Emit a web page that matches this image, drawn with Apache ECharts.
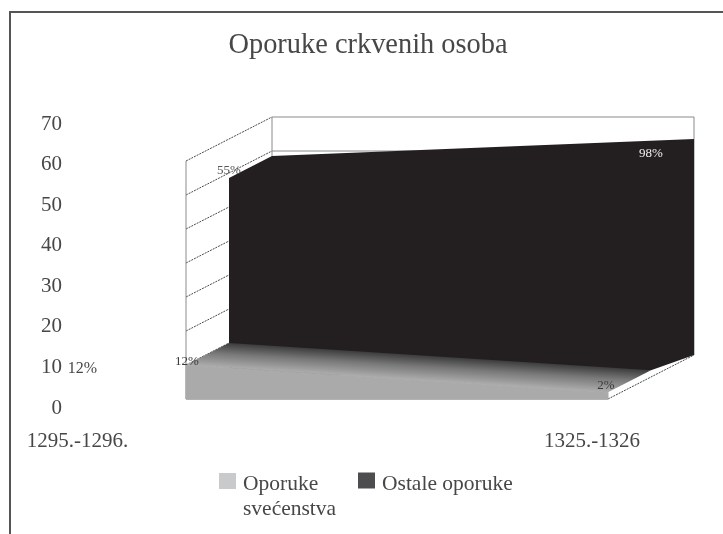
<!DOCTYPE html>
<html>
<head>
<meta charset="utf-8">
<style>html,body{margin:0;padding:0;background:#fff}#c{width:723px;height:534px}</style>
<script src="https://cdn.jsdelivr.net/npm/echarts@6/dist/echarts.min.js"></script>
</head>
<body>
<div id="c"></div>
<script>
var titleText = 'Oporuke crkvenih osoba';
var categories = ['1295.-1296.', '1325.-1326'];
var seriesNames = ['Oporuke\nsvećenstva', 'Ostale oporuke'];
var clergy = [10, 2];
var others = [58.5, 63.5];
var clergyLabels = ['12%', '2%'];
var otherLabels = ['55%', '98%'];
var yTicks = [0, 10, 20, 30, 40, 50, 60, 70];

var SERIF = '"Liberation Serif", "Times New Roman", serif';
var TEXT = '#474747';
var DEPTH_X = 86, DEPTH_Y = -44;

function pt(api, xi, v, depth) {
  var p = api.coord([xi, v]);
  return [p[0] + DEPTH_X * depth, p[1] + DEPTH_Y * depth];
}
function line(a, b, style) {
  return {type: 'line', shape: {x1: a[0], y1: a[1], x2: b[0], y2: b[1]}, style: style};
}
function poly(points, style) {
  return {type: 'polygon', shape: {points: points}, style: style};
}
function label(p, text, color, size, align) {
  return {type: 'text', x: p[0], y: p[1], style: {text: text, fill: color, font: (size || 13) + 'px ' + SERIF, align: align || 'center', verticalAlign: 'middle'}};
}

function renderWalls(params, api) {
  var wall = {stroke: '#8a8a8a', lineWidth: 1, fill: null};
  var grid = {stroke: '#4a4a4a', lineWidth: 1, lineDash: [2, 1]};
  var kids = [];
  yTicks.forEach(function (t) {
    if (t > 0) {
      kids.push(line(pt(api, 0, t, 0), pt(api, 0, t, 1), grid));
    }
    if (t === 60 || t === 70) {
      kids.push(line(pt(api, 0, t, 1), pt(api, 1, t, 1), wall));
    }
  });
  kids.push(line(pt(api, 0, 0, 0), pt(api, 0, 70, 0), wall));
  kids.push(line(pt(api, 0, 0, 1), pt(api, 0, 70, 1), wall));
  kids.push(line(pt(api, 1, 0, 1), pt(api, 1, 70, 1), wall));
  kids.push(line(pt(api, 0, 0, 0), pt(api, 1, 0, 0), {stroke: '#777', lineWidth: 1}));
  kids.push(line(pt(api, 1, 0, 0), pt(api, 1, 0, 1), grid));
  return {type: 'group', children: kids};
}

function renderOthers(params, api) {
  if (params.dataIndex !== 0) return null;
  var d0 = 0.5, d1 = 1;
  return poly([
    pt(api, 0, 0, d0),
    pt(api, 0, others[0], d0),
    pt(api, 0, others[0], d1),
    pt(api, 1, others[1], d1),
    pt(api, 1, 0, d1),
    pt(api, 1, clergy[1], d0)
  ], {fill: '#231f20'});
}

function renderClergy(params, api) {
  if (params.dataIndex !== 0) return null;
  var d1 = 0.5;
  var a = pt(api, 0, clergy[0], 0), b = pt(api, 1, clergy[1], 0);
  var c = pt(api, 0, clergy[0], d1), e = pt(api, 1, clergy[1], d1);
  var ex = e[0] - c[0], ey = e[1] - c[1], len = Math.sqrt(ex * ex + ey * ey);
  var nx = -ey / len, ny = ex / len;
  var reach = (a[0] - c[0]) * nx + (a[1] - c[1]) * ny;
  var grad = {
    type: 'linear', global: true,
    x: c[0], y: c[1], x2: c[0] + nx * reach, y2: c[1] + ny * reach,
    colorStops: [{offset: 0, color: '#3c3c3c'}, {offset: 0.45, color: '#787878'}, {offset: 1, color: '#adadad'}]
  };
  return {type: 'group', children: [
    poly([a, c, e, b], {fill: grad}),
    poly([pt(api, 0, 0, 0), a, b, pt(api, 1, 0, 0)], {fill: '#aaaaaa', stroke: '#aaaaaa', lineWidth: 1})
  ]};
}

function renderValueLabels(params, api) {
  if (params.dataIndex !== 0) return null;
  var p0 = pt(api, 0, clergy[0], 0), p1 = pt(api, 1, clergy[1], 0);
  var p2 = pt(api, 0, others[0], 0.5), p3 = pt(api, 1, others[1], 0.5);
  return {type: 'group', children: [
    label([p0[0] + 1, p0[1] - 3], clergyLabels[0], '#3a3a3a'),
    label([p1[0] - 2, p1[1] - 7], clergyLabels[1], '#3a3a3a'),
    label([p2[0], p2[1] - 8], otherLabels[0], '#555555'),
    label([p3[0], p3[1] - 8], otherLabels[1], '#f0f0f0')
  ]};
}

function renderOuterLabel(params, api) {
  if (params.dataIndex !== 0) return null;
  var p = api.coord([0, 10]);
  return label([p[0] + 5, p[1] + 1], clergyLabels[0], TEXT, 16);
}

var legendRich = {
  a: {fontFamily: SERIF, fontSize: 21.5, color: TEXT, lineHeight: 25, padding: [0, 0, 0, 2]},
  g1: {fontSize: 10, lineHeight: 31},
  g2: {fontSize: 4, lineHeight: 8}
};

var chart = echarts.init(document.getElementById('c'), null, {renderer: 'canvas'});
chart.setOption({
  animation: false,
  backgroundColor: '#ffffff',
  title: {
    text: titleText, left: 363, top: 27, textAlign: 'center',
    textStyle: {fontFamily: SERIF, fontSize: 28.4, fontWeight: 'normal', color: TEXT}
  },
  legend: [
    {
      left: 214, top: 446, orient: 'horizontal', itemWidth: 17, itemHeight: 16,
      data: [{name: seriesNames[0], icon: 'rect', itemStyle: {color: '#c9cacc'}}],
      formatter: function (n) {
        return '{g1| }\n' + n.split('\n').map(function (s) { return '{a|' + s + '}'; }).join('\n');
      },
      textStyle: {rich: legendRich}
    },
    {
      left: 353, top: 461, orient: 'horizontal', itemWidth: 17, itemHeight: 16,
      data: [{name: seriesNames[1], icon: 'rect', itemStyle: {color: '#4d4d4f'}}],
      formatter: function (n) { return '{g2| }\n{a|' + n + '}'; },
      textStyle: {rich: legendRich}
    }
  ],
  grid: [
    {left: 186, top: 161, width: 422, height: 238},
    {left: 77.5, top: 124, width: 514.5, height: 284}
  ],
  xAxis: [
    {gridIndex: 0, type: 'value', min: 0, max: 1, show: false},
    {gridIndex: 1, type: 'category', data: categories, boundaryGap: false,
      axisLine: {show: false}, axisTick: {show: false}, splitLine: {show: false},
      axisLabel: {interval: 0, margin: 23, fontFamily: SERIF, fontSize: 21, color: TEXT}}
  ],
  yAxis: [
    {gridIndex: 0, type: 'value', min: 0, max: 70, interval: 10, show: false},
    {gridIndex: 1, type: 'value', min: 0, max: 70, interval: 10,
      axisLine: {show: false}, axisTick: {show: false}, splitLine: {show: false},
      axisLabel: {margin: 15.5, fontFamily: SERIF, fontSize: 21, color: TEXT}}
  ],
  graphic: [{
    type: 'polyline', silent: true, z: -1,
    shape: {points: [[10, 534], [10, 12], [723, 12]]},
    style: {stroke: '#555555', lineWidth: 2, fill: null}
  }],
  series: [
    {type: 'custom', name: 'walls', xAxisIndex: 0, yAxisIndex: 0, silent: true, z: 1, clip: false,
      data: [[0, 0]], renderItem: renderWalls},
    {type: 'custom', name: seriesNames[1], xAxisIndex: 0, yAxisIndex: 0, silent: true, z: 2, clip: false,
      data: others.map(function (v, i) { return [i, v]; }), renderItem: renderOthers},
    {type: 'custom', name: seriesNames[0], xAxisIndex: 0, yAxisIndex: 0, silent: true, z: 3, clip: false,
      data: clergy.map(function (v, i) { return [i, v]; }), renderItem: renderClergy},
    {type: 'custom', name: 'labels', xAxisIndex: 0, yAxisIndex: 0, silent: true, z: 4, clip: false,
      data: [[0, 0]], renderItem: renderValueLabels},
    {type: 'custom', name: 'outer', xAxisIndex: 1, yAxisIndex: 1, silent: true, z: 4, clip: false,
      data: [[0, 10]], renderItem: renderOuterLabel}
  ]
});
</script>
</body>
</html>
